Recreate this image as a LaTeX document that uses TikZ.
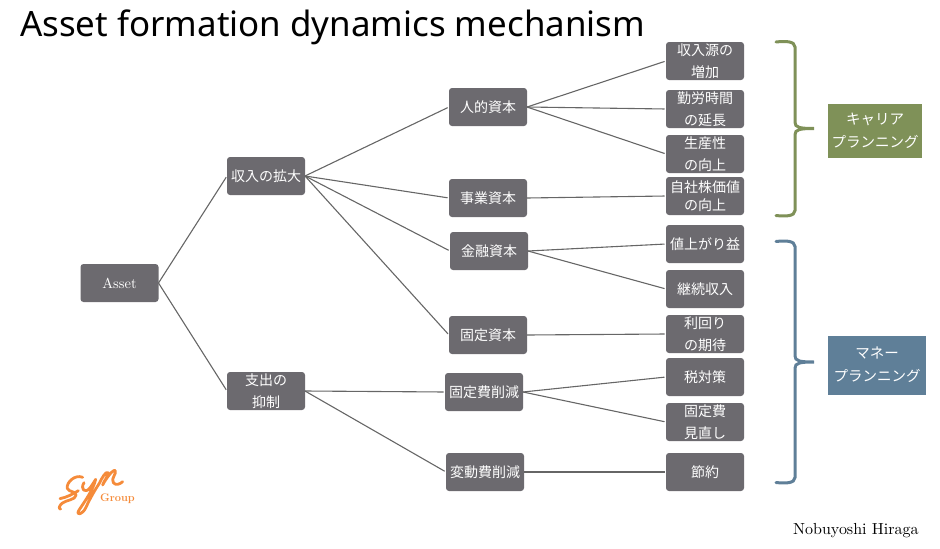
\documentclass[tikz,border=0pt]{standalone}
\usepackage{fontspec}
\newfontfamily\jpf{Noto Sans CJK JP}
\newfontfamily\ttlf{Noto Sans}
\definecolor{boxgray}{HTML}{6C6A6F}
\definecolor{linegray}{HTML}{666666}
\definecolor{leafgreen}{HTML}{7F9158}
\definecolor{slateblue}{HTML}{5F7F98}
\definecolor{logoorange}{HTML}{F58B3A}
\tikzset{
  mapbox/.style={draw=none,fill=boxgray,rounded corners=3pt,minimum width=78pt,minimum height=38pt,
    inner sep=0pt,outer sep=0pt,text=white,align=center,font=\jpf\fontsize{14}{22}\selectfont},
  tightbox/.style={mapbox,font=\jpf\fontsize{14}{18}\selectfont},
  tagbox/.style={draw=none,inner sep=0pt,text=white,align=center,font=\jpf\fontsize{14.5}{23}\selectfont},
  link/.style={draw=linegray,line width=1.1pt,shorten >=1.5pt},
  bracket/.style={line width=3pt,line cap=round},
  logostroke/.style={draw=logoorange,line width=2.8pt,line cap=round,line join=round},
}
\newcommand{\planbrace}[4]{% colour, top, mid, bottom
  \draw[bracket,#1] (776,#2) .. controls (785,{#2-1}) and (795,{#2-1}) .. (795,{#2+5})
    -- (795,{#3-6}) .. controls (795,{#3-1}) and (800,#3) .. (814,#3)
    .. controls (800,#3) and (795,{#3+1}) .. (795,{#3+6})
    -- (795,{#4-5}) .. controls (795,{#4+1}) and (785,{#4+1}) .. (776,#4);
}
\begin{document}
\begin{tikzpicture}[x=1pt,y=-1pt]
\useasboundingbox (0,0) rectangle (940,549);
\node[anchor=west,inner sep=0pt,font=\ttlf\fontsize{34.9}{40}\selectfont] (title) at (20,27.5) {Asset formation dynamics mechanism};

\node[mapbox] (asset) at (119.5,283) {};
\node[inner sep=0pt,text=white,scale=1.45,font=\rmfamily\fontsize{10}{12}\selectfont] (assetlabel) at (asset.center) {Asset};
\node[mapbox] (income) at (266,176) {収入の拡大};
\node[mapbox] (spend) at (266,391) {支出の\\抑制};
\node[mapbox] (human) at (488,107) {人的資本};
\node[mapbox] (biz) at (488,198) {事業資本};
\node[mapbox] (fin) at (489,251) {金融資本};
\node[mapbox] (fixcap) at (488,335) {固定資本};
\node[mapbox] (fixcost) at (484,392) {固定費削減};
\node[mapbox] (varcost) at (485,472) {変動費削減};
\node[mapbox] (l1) at (705,61) {収入源の\\増加};
\node[mapbox] (l2) at (705,109) {勤労時間\\の延長};
\node[mapbox] (l3) at (705,154) {生産性\\の向上};
\node[tightbox] (l4) at (705,196) {自社株価値\\の向上};
\node[mapbox] (l5) at (705,244) {値上がり益};
\node[mapbox] (l6) at (705,289) {継続収入};
\node[mapbox] (l7) at (705,334) {利回り\\の期待};
\node[mapbox] (l8) at (705,377) {税対策};
\node[mapbox] (l9) at (705,422) {固定費\\見直し};
\node[mapbox] (l10) at (705,472) {節約};

\draw[link] (asset.east) -- (income.west);
\draw[link] (asset.east) -- (spend.west);
\foreach \c in {human,biz,fin,fixcap} \draw[link] (income.east) -- (\c.west);
\foreach \c in {fixcost,varcost} \draw[link] (spend.east) -- (\c.west);
\foreach \c in {l1,l2,l3} \draw[link] (human.east) -- (\c.west);
\draw[link] (biz.east) -- (l4.west);
\foreach \c in {l5,l6} \draw[link] (fin.east) -- (\c.west);
\draw[link] (fixcap.east) -- (l7.west);
\foreach \c in {l8,l9} \draw[link] (fixcost.east) -- (\c.west);
\draw[link] (varcost.east) -- (l10.west);

\planbrace{leafgreen}{42}{128.5}{215.5}
\planbrace{slateblue}{241.5}{362}{482.5}

\node[tagbox,fill=leafgreen,minimum width=94pt,minimum height=54pt] (career) at (875,131) {キャリア\\プランニング};
\node[tagbox,fill=slateblue,minimum width=98pt,minimum height=59pt] (money) at (877,365) {マネー\\プランニング};

\node[anchor=east,inner sep=0pt,scale=1.6,font=\rmfamily\fontsize{10}{12}\selectfont] (author) at (919,531) {Nobuyoshi Hiraga};

% logo, drawn in 3x zoom coordinates
\begin{scope}[shift={(40,450)},x=0.3333pt,y=-0.3333pt]
  \draw[logostroke] (128,82) .. controls (105,72) and (78,98) .. (82,115)
    .. controls (86,128) and (110,122) .. (108,136)
    .. controls (106,150) and (78,150) .. (66,160)
    .. controls (56,168) and (56,178) .. (62,177);
  \draw[logostroke] (60,146) .. controls (80,142) and (100,132) .. (115,122);
  \draw[logostroke] (132,98) .. controls (120,118) and (135,130) .. (148,116)
    .. controls (155,108) and (162,96) .. (167,88)
    .. controls (160,120) and (130,160) .. (116,182)
    .. controls (108,198) and (128,194) .. (138,172)
    .. controls (150,145) and (165,120) .. (178,100)
    .. controls (185,85) and (198,62) .. (204,68)
    .. controls (206,78) and (190,95) .. (188,105)
    .. controls (195,90) and (220,55) .. (226,62)
    .. controls (230,72) and (212,85) .. (220,98)
    .. controls (228,108) and (240,102) .. (248,95);
\end{scope}
\node[inner sep=0pt,text=logoorange,font=\rmfamily\bfseries\fontsize{11}{12}\selectfont] (group) at (117.5,498.5) {Group};
\end{tikzpicture}
\end{document}
